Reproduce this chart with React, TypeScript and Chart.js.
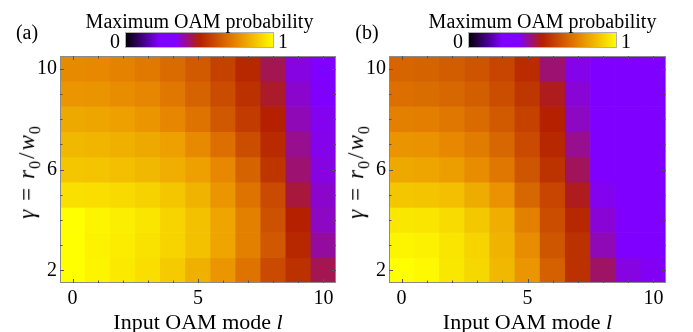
import React, { useEffect, useRef } from 'react';
import { Chart, registerables } from 'chart.js';

Chart.register(...registerables);

// Input OAM modes (columns) and beam-ratio values (rows, top to bottom)
const modes = [0, 1, 2, 3, 4, 5, 6, 7, 8, 9, 10];
const gammas = [10, 9, 8, 7, 6, 5, 4, 3, 2];
const xTickValues = [0, 5, 10];
const yTickValues = [2, 6, 10];

// Maximum OAM probability, panel (a); one row per gamma, one entry per mode
const probA: number[][] = [
  [0.755, 0.75, 0.735, 0.715, 0.68, 0.64, 0.58, 0.52, 0.449, 0.359, 0.3],
  [0.78, 0.775, 0.76, 0.745, 0.71, 0.66, 0.605, 0.54, 0.474, 0.372, 0.31],
  [0.82, 0.81, 0.8, 0.78, 0.745, 0.7, 0.635, 0.565, 0.5, 0.385, 0.35],
  [0.85, 0.845, 0.835, 0.82, 0.8, 0.755, 0.69, 0.61, 0.525, 0.41, 0.353],
  [0.88, 0.875, 0.865, 0.85, 0.83, 0.8, 0.75, 0.66, 0.55, 0.43, 0.359],
  [0.935, 0.93, 0.92, 0.905, 0.88, 0.84, 0.78, 0.7, 0.6, 0.462, 0.372],
  [1.0, 0.98, 0.965, 0.945, 0.91, 0.87, 0.81, 0.73, 0.62, 0.5, 0.378],
  [1.0, 0.975, 0.96, 0.94, 0.91, 0.87, 0.81, 0.73, 0.635, 0.52, 0.401],
  [1.0, 0.98, 0.955, 0.93, 0.89, 0.835, 0.78, 0.7, 0.6, 0.54, 0.449],
];

// Maximum OAM probability, panel (b)
const probB: number[][] = [
  [0.665, 0.66, 0.645, 0.625, 0.59, 0.53, 0.43, 0.353, 0.3, 0.29, 0.28],
  [0.69, 0.685, 0.67, 0.65, 0.61, 0.555, 0.481, 0.366, 0.31, 0.3, 0.29],
  [0.73, 0.725, 0.71, 0.68, 0.64, 0.58, 0.5, 0.378, 0.31, 0.3, 0.29],
  [0.775, 0.77, 0.75, 0.72, 0.67, 0.6, 0.52, 0.41, 0.32, 0.3, 0.3],
  [0.82, 0.81, 0.795, 0.76, 0.71, 0.63, 0.545, 0.442, 0.32, 0.31, 0.3],
  [0.88, 0.875, 0.865, 0.825, 0.77, 0.67, 0.59, 0.481, 0.35, 0.31, 0.3],
  [0.95, 0.945, 0.925, 0.885, 0.83, 0.73, 0.61, 0.52, 0.366, 0.32, 0.31],
  [0.98, 0.97, 0.945, 0.91, 0.84, 0.76, 0.63, 0.54, 0.385, 0.33, 0.32],
  [1.0, 0.985, 0.95, 0.915, 0.85, 0.78, 0.655, 0.54, 0.436, 0.359, 0.346],
];

// Colour scale: black -> violet (flat band) -> red -> orange -> yellow
const cmapStops = [0, 0.23, 0.34, 0.5, 0.75, 1];
const cmapColors = [
  [0, 0, 0],
  [128, 0, 255],
  [128, 0, 255],
  [180, 32, 0],
  [232, 136, 0],
  [255, 255, 0],
];

function colormap(v: number): string {
  const t = Math.max(0, Math.min(1, v));
  let i = 0;
  while (i < cmapStops.length - 2 && t > cmapStops[i + 1]) i++;
  const f = (t - cmapStops[i]) / (cmapStops[i + 1] - cmapStops[i]);
  const a = cmapColors[i];
  const b = cmapColors[i + 1];
  const c = a.map((x, k) => Math.round(x + (b[k] - x) * f));
  return `rgb(${c[0]},${c[1]},${c[2]})`;
}

const SERIF = '"Liberation Serif", "Times New Roman", serif';
const FRAME = '#8a8a8a';
const TICK = '#555555';

type Geom = {
  width: number;
  plotLeft: number;
  plotRight: number;
  tagX: number;
  bar: { x: number; y: number; w: number; h: number };
};

const PLOT_TOP = 56;
const PLOT_BOTTOM = 283;
const HEIGHT = 332;

const geomA: Geom = { width: 346, plotLeft: 60, plotRight: 336, tagX: 27, bar: { x: 125, y: 32, w: 149, h: 16 } };
const geomB: Geom = { width: 347, plotLeft: 43, plotRight: 320, tagX: 21, bar: { x: 122, y: 32, w: 149, h: 16 } };

function framePlugin(geom: Geom) {
  return {
    id: 'frameAndBar',
    afterDraw(chart: any) {
      const { ctx, chartArea: a, scales } = chart;
      const x = scales.x;
      const y = scales.y;
      ctx.save();
      // frame
      ctx.strokeStyle = FRAME;
      ctx.lineWidth = 1;
      ctx.strokeRect(a.left + 0.5, a.top + 0.5, a.right - a.left - 1, a.bottom - a.top - 1);
      // inward tick marks on all four sides
      ctx.strokeStyle = TICK;
      ctx.beginPath();
      modes.forEach((m, i) => {
        const px = Math.round(x.getPixelForValue(i)) + 0.5;
        const len = xTickValues.includes(m) ? 4 : 2.5;
        ctx.moveTo(px, a.bottom);
        ctx.lineTo(px, a.bottom - len);
        ctx.moveTo(px, a.top);
        ctx.lineTo(px, a.top + len);
      });
      gammas.forEach((g) => {
        const py = Math.round(y.getPixelForValue(g)) + 0.5;
        const len = yTickValues.includes(g) ? 4 : 2.5;
        ctx.moveTo(a.left, py);
        ctx.lineTo(a.left + len, py);
        ctx.moveTo(a.right, py);
        ctx.lineTo(a.right - len, py);
      });
      ctx.stroke();
      // colour bar
      const b = geom.bar;
      const grad = ctx.createLinearGradient(b.x, 0, b.x + b.w, 0);
      cmapStops.forEach((s, k) => {
        const c = cmapColors[k];
        grad.addColorStop(s, `rgb(${c[0]},${c[1]},${c[2]})`);
      });
      ctx.fillStyle = grad;
      ctx.fillRect(b.x, b.y, b.w, b.h);
      ctx.strokeStyle = '#b0b0b0';
      ctx.strokeRect(b.x + 0.5, b.y + 0.5, b.w - 1, b.h - 1);
      ctx.restore();
    },
  };
}

function buildChart(canvas: HTMLCanvasElement, rows: number[][], geom: Geom) {
  const datasets = gammas.map((g, r) => ({
    label: `gamma ${g}`,
    data: modes.map(() => [g - 0.5, g + 0.5]),
    backgroundColor: rows[r].map((v) => colormap(v)),
    borderWidth: 0,
    borderSkipped: false,
    grouped: false,
    categoryPercentage: 1,
    barPercentage: 1,
  }));
  return new Chart(canvas, {
    type: 'bar',
    data: { labels: modes.map(String), datasets: datasets as any },
    options: {
      animation: false,
      responsive: false,
      events: [],
      layout: { padding: { left: 0, top: PLOT_TOP, right: geom.width - geom.plotRight, bottom: 0 } },
      plugins: { legend: { display: false }, tooltip: { enabled: false }, title: { display: false } },
      scales: {
        x: {
          type: 'category',
          offset: true,
          grid: { display: false, drawTicks: false },
          border: { display: false },
          ticks: {
            autoSkip: false,
            maxRotation: 0,
            padding: 4,
            color: '#000',
            font: { family: SERIF, size: 20 },
            callback: (_v: any, i: number) => (xTickValues.includes(modes[i]) ? String(modes[i]) : ''),
          },
          afterFit: (s: any) => {
            s.height = HEIGHT - PLOT_BOTTOM;
          },
        },
        y: {
          type: 'linear',
          min: 1.5,
          max: 10.5,
          grid: { display: false, drawTicks: false },
          border: { display: false },
          ticks: {
            padding: 3,
            color: '#000',
            font: { family: SERIF, size: 20 },
          },
          afterBuildTicks: (s: any) => {
            s.ticks = yTickValues.map((v) => ({ value: v }));
          },
          afterFit: (s: any) => {
            s.width = geom.plotLeft;
          },
        },
      },
    } as any,
    plugins: [framePlugin(geom)],
  });
}

const textBase: React.CSSProperties = {
  position: 'absolute',
  fontFamily: SERIF,
  color: '#000',
  whiteSpace: 'nowrap',
  lineHeight: 1,
  transform: 'translate(-50%, -50%)',
};

function Panel({ rows, geom, offset, tag }: { rows: number[][]; geom: Geom; offset: number; tag: string }) {
  const ref = useRef<HTMLCanvasElement>(null);
  useEffect(() => {
    if (!ref.current) return;
    const chart = buildChart(ref.current, rows, geom);
    return () => chart.destroy();
  }, [rows, geom]);
  const plotMid = (geom.plotLeft + geom.plotRight) / 2;
  const barMid = geom.bar.x + geom.bar.w / 2;
  return (
    <div style={{ position: 'absolute', left: offset, top: 0, width: geom.width, height: HEIGHT }}>
      <canvas ref={ref} width={geom.width} height={HEIGHT} style={{ position: 'absolute', left: 0, top: 0 }} />
      <div style={{ ...textBase, left: barMid, top: 21, fontSize: 20 }}>Maximum OAM probability</div>
      <div style={{ ...textBase, left: geom.bar.x - 10, top: 41, fontSize: 20 }}>0</div>
      <div style={{ ...textBase, left: geom.bar.x + geom.bar.w + 9, top: 41, fontSize: 20 }}>1</div>
      <div style={{ ...textBase, left: geom.tagX, top: 32, fontSize: 20 }}>{tag}</div>
      <div style={{ ...textBase, left: plotMid, top: 322, fontSize: 22 }}>
        Input OAM mode <i>l</i>
      </div>
      <div
        style={{
          ...textBase,
          left: geom.plotLeft - 31,
          top: (PLOT_TOP + PLOT_BOTTOM) / 2 + 2,
          fontSize: 23,
          letterSpacing: 1,
          transform: 'translate(-50%, -50%) rotate(-90deg)',
        }}
      >
        <i>γ</i>
        <span style={{ margin: '0 8px' }}>=</span>
        <i>r</i>
        <sub style={{ fontSize: 16 }}>0</sub>
        <span style={{ margin: '0 1px' }}>/</span>
        <i>w</i>
        <sub style={{ fontSize: 16 }}>0</sub>
      </div>
    </div>
  );
}

export default function App() {
  useEffect(() => {
    document.body.style.margin = '0';
  }, []);
  return (
    <div style={{ position: 'relative', width: 693, height: HEIGHT, background: '#fff', overflow: 'hidden' }}>
      <Panel rows={probA} geom={geomA} offset={0} tag="(a)" />
      <Panel rows={probB} geom={geomB} offset={346} tag="(b)" />
    </div>
  );
}
